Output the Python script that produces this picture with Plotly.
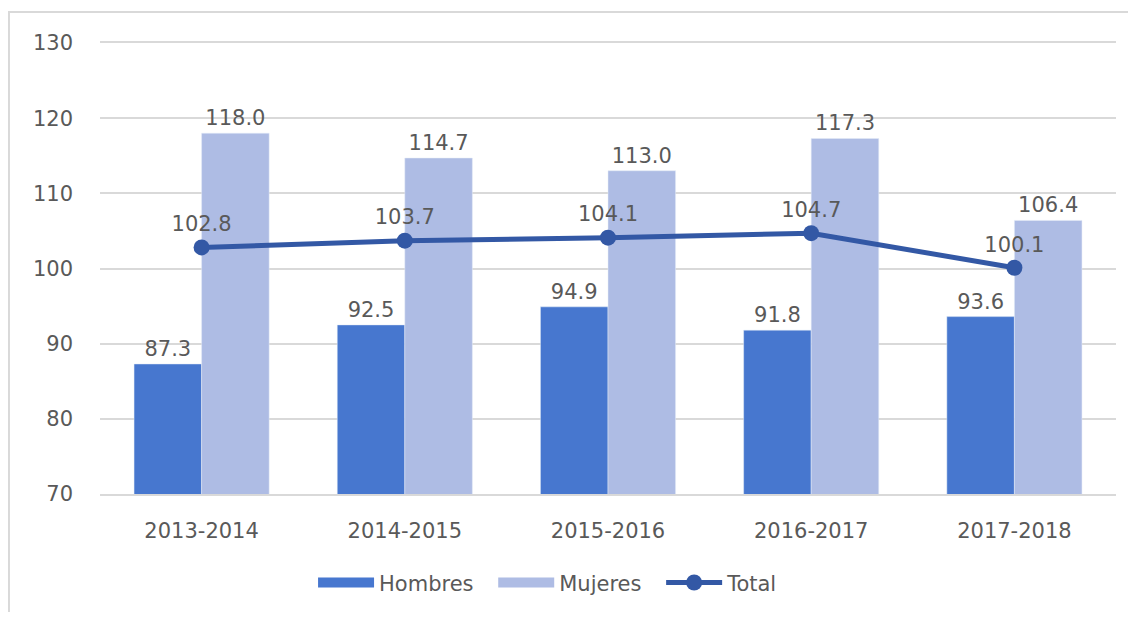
import plotly.graph_objects as go

categories = ["2013-2014", "2014-2015", "2015-2016", "2016-2017", "2017-2018"]
hombres = [87.3, 92.5, 94.9, 91.8, 93.6]
mujeres = [118.0, 114.7, 113.0, 117.3, 106.4]
total = [102.8, 103.7, 104.1, 104.7, 100.1]

FONT = "DejaVu Sans"
GREY = "#595959"
C_H = "#4777CF"
C_M = "#AEBCE4"
C_T = "#3358A5"
FS = 21

fig = go.Figure()
fig.add_trace(go.Bar(
    x=categories, y=hombres, name="Hombres", marker_color=C_H, showlegend=False,
    text=[f"{v:.1f}" for v in hombres], textposition="outside",
    textfont=dict(family=FONT, size=FS, color=GREY), cliponaxis=False,
))
fig.add_trace(go.Bar(
    x=categories, y=mujeres, name="Mujeres", marker_color=C_M, showlegend=False,
    text=[f"{v:.1f}" for v in mujeres], textposition="outside",
    textfont=dict(family=FONT, size=FS, color=GREY), cliponaxis=False,
))
fig.add_trace(go.Scatter(
    x=categories, y=total, name="Total", mode="lines+markers+text", showlegend=False,
    line=dict(color=C_T, width=5), marker=dict(size=16, color=C_T),
    text=[f"{v:.1f}" for v in total], textposition="top center",
    textfont=dict(family=FONT, size=FS, color=GREY), cliponaxis=False,
))

# legend entries (wide swatches like the original)
fig.add_trace(go.Scatter(x=[None], y=[None], mode="lines", name="Hombres\u2002\u2009",
                         line=dict(color=C_H, width=12)))
fig.add_trace(go.Scatter(x=[None], y=[None], mode="lines", name="Mujeres\u2002\u2009",
                         line=dict(color=C_M, width=12)))
fig.add_trace(go.Scatter(x=[None], y=[None], mode="lines+markers", name="Total",
                         line=dict(color=C_T, width=5), marker=dict(size=16, color=C_T)))

fig.update_layout(
    width=1120, height=604,
    margin=dict(l=92, r=12, t=35, b=118, autoexpand=False),
    paper_bgcolor="white", plot_bgcolor="white",
    barmode="group", bargap=0.335, bargroupgap=0,
    font=dict(family=FONT, size=FS, color=GREY),
    showlegend=True,
    legend=dict(orientation="h", x=0.441, y=-0.197, xanchor="center", yanchor="middle",
                font=dict(family=FONT, size=FS, color=GREY), itemwidth=56,
                traceorder="normal"),
    yaxis=dict(range=[70, 130], dtick=10, showgrid=True, gridcolor="#D9D9D9", gridwidth=2,
               zeroline=False, ticks="", ticklabelstandoff=26, automargin=False,
               tickfont=dict(family=FONT, size=FS, color=GREY)),
    xaxis=dict(showgrid=False, showline=True, mirror=True, linecolor="#D9D9D9", linewidth=2,
               ticks="", ticklabelstandoff=17, automargin=False,
               tickfont=dict(family=FONT, size=FS, color=GREY)),
    shapes=[dict(type="rect", xref="paper", yref="paper",
                 x0=-0.0896, x1=1.2, y0=-0.5, y1=1.0687,
                 line=dict(color="#D9D9D9", width=2), layer="below")],
)

fig.write_html("out.html")
